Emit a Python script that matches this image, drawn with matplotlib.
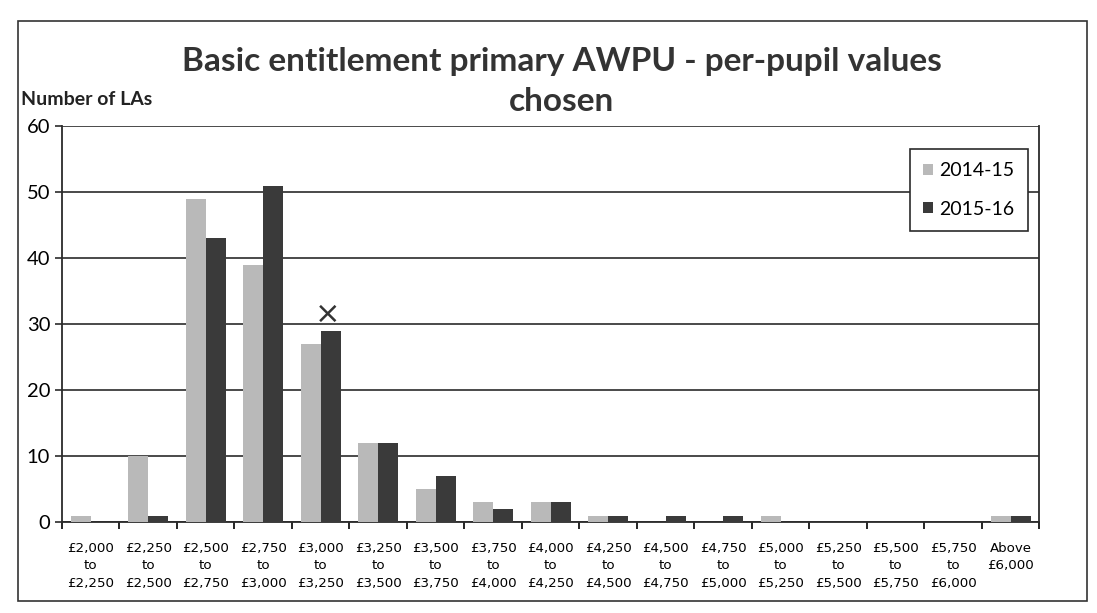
import numpy as np
import matplotlib
matplotlib.use("Agg")
import matplotlib.pyplot as plt
from matplotlib.patches import Rectangle

# Datos
bandas = ["£2,000\nto\n£2,250", "£2,250\nto\n£2,500", "£2,500\nto\n£2,750",
          "£2,750\nto\n£3,000", "£3,000\nto\n£3,250", "£3,250\nto\n£3,500",
          "£3,500\nto\n£3,750", "£3,750\nto\n£4,000", "£4,000\nto\n£4,250",
          "£4,250\nto\n£4,500", "£4,500\nto\n£4,750", "£4,750\nto\n£5,000",
          "£5,000\nto\n£5,250", "£5,250\nto\n£5,500", "£5,500\nto\n£5,750",
          "£5,750\nto\n£6,000", "Above\n£6,000"]
v_2014 = [1, 10, 49, 39, 27, 12, 5, 3, 3, 1, 0, 0, 1, 0, 0, 0, 1]
v_2015 = [0, 1, 43, 51, 29, 12, 7, 2, 3, 1, 1, 1, 0, 0, 0, 0, 1]
series = ["2014-15", "2015-16"]
y_ticks = [0, 10, 20, 30, 40, 50, 60]

fig = plt.figure(figsize=(10.97, 6.13), dpi=100)
fig.patch.set_facecolor("white")

# marco del grafico
fig.patches.append(Rectangle((0.016, 0.02), 0.975, 0.945, transform=fig.transFigure,
                             fill=False, edgecolor="#333333", linewidth=1.2))

ax = fig.add_axes([0.0565, 0.148, 0.891, 0.646])
x = np.arange(len(bandas))
w = 0.35
ax.bar(x - w / 2, v_2014, width=w, color="#b9b9b9", label=series[0], zorder=3)
ax.bar(x + w / 2, v_2015, width=w, color="#3a3a3a", label=series[1], zorder=3)

ax.set_ylim(0, 60)
ax.set_xlim(-0.5, len(bandas) - 0.5)
ax.set_yticks(y_ticks)
ax.set_yticklabels([str(t) for t in y_ticks], fontsize=14.5, family="Lato")
ax.yaxis.grid(True, color="#2b2b2b", linewidth=1.2, zorder=0)
ax.tick_params(axis="y", length=5, width=1.2, color="#2b2b2b")

# marcas entre categorias (estilo Excel)
ax.set_xticks(np.arange(len(bandas) + 1) - 0.5)
ax.set_xticklabels([])
ax.set_xticks(x, minor=True)
ax.set_xticklabels(bandas, minor=True, fontsize=9.6, family="DejaVu Sans", linespacing=1.45)
ax.tick_params(axis="x", which="major", length=5, width=1.2, direction="out")
ax.tick_params(axis="x", which="minor", length=0, pad=14)

for s in ["top"]:
    ax.spines[s].set_visible(False)
for s in ["left", "bottom", "right"]:
    ax.spines[s].set_color("#2b2b2b")
    ax.spines[s].set_linewidth(1.3)

# marca a mano sobre la barra de £3,000
ax.text(x[4] + w / 2 - 0.05, 31.5, "×", fontsize=22, ha="center", va="center", color="#333333")

leg = ax.legend(loc="upper right", bbox_to_anchor=(0.998, 0.968), prop={"family": "Lato", "size": 14},
                handlelength=0.5, handleheight=0.5, handletextpad=0.3, labelspacing=1.1,
                fancybox=False, framealpha=1, borderpad=0.7)
leg.get_frame().set_edgecolor("#2b2b2b")
leg.get_frame().set_linewidth(1.2)

fig.text(0.512, 0.867, "Basic entitlement primary AWPU - per-pupil values\nchosen",
         ha="center", va="center", fontsize=24, fontweight="bold", family="Lato",
         color="#333333", linespacing=1.45)
fig.text(0.019, 0.837, "Number of LAs", fontsize=14, fontweight="bold", family="Lato",
         color="#222222", va="center")

fig.savefig("out.png", dpi=100, facecolor="white")
